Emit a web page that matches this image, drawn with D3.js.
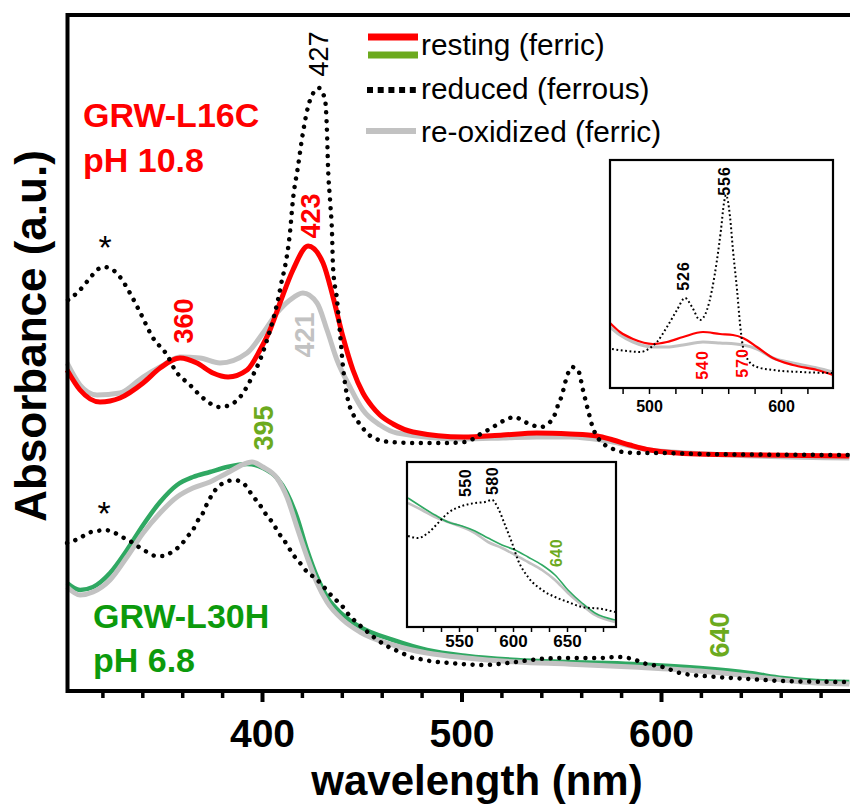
<!DOCTYPE html>
<html><head><meta charset="utf-8">
<script src="https://cdn.jsdelivr.net/npm/d3@7"></script>
<style>body{margin:0;background:#fff}</style>
</head><body><svg id="chart" width="850" height="809"></svg>
<script>
// ---------- main panel data (wavelength nm, absorbance a.u.) ----------
const wlL16CResting = [302.3,308.8,318.8,328.8,340.4,348.9,358.9,367.4,375.4,383.0,392.5,399.0,404.0,409.0,415.5,423.1,430.6,435.6,440.6,445.6,450.6,455.0,459.1,465.7,475.7,500.8,520.8,537.8,554.4,568.0,576.0,584.4,594.5,618.0,651.0,694.4];
const absL16CResting = [.321,.301,.289,.293,.308,.323,.333,.328,.318,.314,.321,.341,.361,.388,.421,.445,.428,.394,.354,.321,.298,.285,.276,.267,.259,.254,.256,.258,.257,.255,.251,.246,.241,.237,.236,.235];

const wlL16CReox = [302.3,308.8,317.3,328.8,340.4,348.9,358.9,368.9,378.9,392.5,400.5,407.5,414.0,420.5,427.6,432.6,437.6,444.1,450.6,459.1,467.7,500.8,520.8,537.8,554.4,575.9,594.5,634.3,694.4];
const absL16CReox = [.328,.306,.296,.298,.314,.324,.334,.333,.328,.338,.358,.378,.391,.398,.388,.361,.331,.304,.281,.266,.258,.252,.253,.254,.254,.249,.241,.236,.233];

const wlL16CReduced = [302.8,307.8,313.8,317.3,320.8,325.3,328.8,333.8,338.8,345.4,352.4,356.4,363.9,370.4,378.9,384.0,390.5,395.0,399.0,402.5,405.5,408.0,410.0,411.5,414.0,415.5,418.0,420.5,424.1,428.6,431.6,432.6,433.1,434.1,435.1,435.6,437.6,439.1,440.6,443.1,445.6,448.6,455.1,464.2,477.7,492.7,501.8,505.8,510.3,514.3,518.3,522.8,526.8,530.8,535.3,539.8,544.4,546.9,548.4,550.4,551.9,555.4,558.4,560.9,563.4,565.9,568.4,571.9,575.9,580.9,589.4,601.0,618.0,694.4];
const absL16CReduced = [.391,.399,.413,.421,.424,.421,.414,.398,.379,.353,.336,.321,.306,.293,.284,.286,.298,.314,.331,.351,.371,.391,.411,.424,.458,.491,.524,.558,.591,.603,.591,.558,.524,.491,.458,.424,.391,.358,.324,.291,.277,.268,.254,.249,.248,.248,.249,.252,.258,.262,.267,.272,.274,.270,.266,.264,.269,.277,.286,.296,.308,.324,.321,.301,.281,.263,.253,.246,.242,.239,.238,.238,.237,.236];

const wlL30HResting = [302.3,308.8,315.3,323.8,332.3,340.4,348.9,357.4,365.4,373.9,382.5,392.5,400.5,407.5,412.5,417.5,422.6,427.6,432.6,440.6,449.1,465.7,482.7,502.8,527.8,552.9,585.9,619.5,644.4,660.9,677.9,694.4];
const absL30HResting = [.108,.101,.104,.118,.141,.166,.189,.206,.214,.219,.224,.227,.223,.213,.198,.174,.141,.114,.094,.076,.064,.051,.041,.035,.031,.029,.027,.023,.018,.013,.010,.009];

const wlL30HReox = [302.3,308.8,315.3,323.8,332.3,340.4,348.9,357.4,365.4,373.9,382.5,392.5,395.0,400.5,407.5,412.5,417.5,422.6,427.6,432.6,440.6,449.1,465.7,482.7,502.8,527.8,552.9,585.9,619.5,644.4,660.9,677.9,694.4];
const absL30HReox = [.104,.096,.099,.111,.134,.158,.178,.194,.203,.209,.218,.228,.229,.224,.213,.194,.164,.134,.108,.089,.071,.059,.046,.038,.033,.029,.027,.024,.020,.015,.011,.008,.007];

const wlL30HReduced = [302.3,308.8,312.8,317.3,321.3,325.3,329.8,333.8,338.3,342.4,346.9,350.9,355.4,359.4,362.4,365.4,367.4,370.4,372.4,374.9,377.9,381.9,386.0,390.5,394.0,397.0,400.0,402.5,405.5,408.0,411.0,413.5,416.5,419.5,422.6,426.6,430.6,433.6,437.1,440.6,443.6,447.1,450.6,456.6,461.7,465.7,470.2,474.2,479.2,484.2,494.2,510.8,522.8,530.8,539.3,552.9,569.4,577.9,585.9,590.9,596.0,601.0,609.5,628.0,644.4,660.9,694.4];
const absL30HReduced = [.148,.153,.158,.160,.161,.159,.154,.150,.144,.139,.135,.135,.140,.146,.154,.161,.169,.178,.187,.196,.204,.209,.211,.208,.199,.191,.183,.175,.168,.159,.151,.143,.134,.127,.119,.113,.105,.098,.091,.084,.076,.069,.063,.053,.046,.042,.038,.034,.032,.030,.028,.026,.028,.030,.032,.033,.033,.034,.032,.028,.026,.024,.018,.014,.012,.010,.009];

// ---------- inset 1 (GRW-L16C, Q-band region) ----------
const wlIn1Reduced = [472,483.3,493.2,500.8,506,513.6,521.2,527.3,532.6,538.6,543.9,547.7,551.5,554.5,556.8,558.3,561.4,563.6,566.7,568.9,571.2,575,581.8,593.9,614.4,639.4];
const absIn1Reduced = [.039,.037,.036,.040,.046,.061,.078,.090,.081,.068,.078,.098,.128,.158,.185,.193,.171,.138,.098,.065,.041,.028,.021,.018,.016,.015];
const wlIn1Resting = [470.5,478,487.9,503,513.6,525.8,540.9,553.8,563.6,571.2,581.8,593.9,609,627.3,639.4];
const absIn1Resting = [.065,.056,.049,.044,.046,.051,.056,.054,.053,.050,.041,.030,.023,.018,.013];
const wlIn1Reox = [470.5,478,487.9,503,513.6,525.8,540.9,553.8,571.2,581.8,593.9,609,627.3,639.4];
const absIn1Reox = [.061,.053,.046,.041,.041,.043,.046,.045,.043,.039,.030,.025,.020,.016];

// ---------- inset 2 (GRW-L30H) ----------
const wlIn2 = [502.8,515.7,527.8,539.8,552.8,564.8,576.9,589.8,601.9,613.9,626.9,638.9,650.9,663.9,675.9,694.4];
const absIn2Resting = [.129,.120,.112,.105,.101,.096,.089,.082,.077,.070,.062,.052,.037,.024,.014,.007];
const absIn2Reox = [.124,.117,.110,.105,.100,.094,.085,.079,.072,.065,.057,.047,.034,.022,.012,.005];
const wlIn2Reduced = [502.8,512,521.3,530.6,539.8,552.8,564.8,574.1,580.6,586.1,592.6,599.1,604.6,613.9,626.9,638.9,650.9,663.9,682.4,694.4];
const absIn2Reduced = [.091,.089,.094,.104,.114,.121,.124,.125,.127,.119,.102,.084,.067,.050,.037,.030,.025,.020,.018,.015];

// ---------- ticks / labels ----------
const mainMajorTicks = [400, 500, 600];
const mainMinorTicks = [320,340,360,380,420,440,460,480,520,540,560,580,620,640,660,680];
const in1Ticks = [480,500,520,540,560,580,600,620];
const in1Labels = [500, 600];
const in2Ticks = d3.range(0, 11).map(i => 516.67 + i * 50 / 3);
const in2Labels = [550, 600, 650];
const legendLabels = ["resting (ferric)", "reduced (ferrous)", "re-oxidized (ferric)"];

// ---------- drawing ----------
const FONT = '"Liberation Sans", Arial, Helvetica, sans-serif';
const COL = {red:"#ff0000", gray:"#c2c2c2", green:"#2fa862", greenLabel:"#0c9a0c", yg:"#6caa1e", black:"#000"};
const svg = d3.select("#chart").style("font-family", FONT);
svg.append("rect").attr("width", 850).attr("height", 809).attr("fill", "#fff");

const x = d3.scaleLinear().domain([300, 700]).range([62.5, 860.5]);
const y = d3.scaleLinear().domain([0, 0.68]).range([691, 11]);

function series(g, xs, ys, wl, ab, st) {
  const pts = wl.map((w, i) => [w, ab[i]]);
  const line = d3.line().x(d => xs(d[0])).y(d => ys(d[1])).curve(d3.curveMonotoneX);
  g.append("path").attr("d", line(pts)).attr("fill", "none")
    .attr("stroke", st.color).attr("stroke-width", st.width)
    .attr("stroke-dasharray", st.dash || null)
    .attr("stroke-linecap", st.cap || "butt").attr("stroke-linejoin", "round");
}
function vText(g, cx, cy, txt, size, color, weight, ls) {
  g.append("text").attr("transform", `translate(${cx},${cy}) rotate(-90)`)
    .attr("text-anchor", "middle").attr("dy", "0.36em")
    .attr("font-size", size).attr("font-weight", weight || "bold")
    .attr("letter-spacing", ls || 0).attr("fill", color).text(txt);
}

// main curves
const mg = svg.append("g");
series(mg, x, y, wlL16CReox, absL16CReox, {color: COL.gray, width: 5});
series(mg, x, y, wlL16CResting, absL16CResting, {color: COL.red, width: 5});
series(mg, x, y, wlL16CReduced, absL16CReduced, {color: COL.black, width: 4.5, dash: "0.01 8.7", cap: "round"});
series(mg, x, y, wlL30HResting, absL30HResting, {color: COL.green, width: 4.5});
series(mg, x, y, wlL30HReox, absL30HReox, {color: COL.gray, width: 5});
series(mg, x, y, wlL30HReduced, absL30HReduced, {color: COL.black, width: 4.5, dash: "0.01 8.7", cap: "round"});

// frame
svg.append("rect").attr("x", 67.5).attr("y", 15).attr("width", 800).attr("height", 676)
  .attr("fill", "none").attr("stroke", "#000").attr("stroke-width", 4);

// main x axis
const axMinor = svg.append("g").attr("transform", "translate(0,691)")
  .call(d3.axisBottom(x).tickValues(mainMinorTicks).tickSize(7).tickSizeOuter(0).tickFormat(""));
axMinor.select(".domain").remove();
axMinor.selectAll(".tick line").attr("stroke-width", 3.5);
const axMajor = svg.append("g").attr("transform", "translate(0,691)")
  .call(d3.axisBottom(x).tickValues(mainMajorTicks).tickSize(11).tickSizeOuter(0).tickFormat(d3.format("d")));
axMajor.select(".domain").remove();
axMajor.selectAll(".tick line").attr("stroke-width", 4);
axMajor.selectAll(".tick text").attr("y", 56).attr("dy", null)
  .attr("font-size", 39).attr("font-weight", "bold").attr("font-family", FONT).attr("fill", "#000");

// axis titles
svg.append("text").attr("x", 477).attr("y", 795).attr("text-anchor", "middle")
  .attr("font-size", 42).attr("font-weight", "bold").text("wavelength (nm)");
svg.append("text").attr("transform", "translate(46,336) rotate(-90)").attr("text-anchor", "middle")
  .attr("font-size", 44).attr("font-weight", "bold").text("Absorbance (a.u.)");

// legend
const lg = svg.append("g");
lg.append("line").attr("x1", 368).attr("x2", 418).attr("y1", 37).attr("y2", 37).attr("stroke", COL.red).attr("stroke-width", 7);
lg.append("line").attr("x1", 368).attr("x2", 418).attr("y1", 55).attr("y2", 55).attr("stroke", COL.yg).attr("stroke-width", 7);
lg.append("line").attr("x1", 367).attr("x2", 420).attr("y1", 90).attr("y2", 90).attr("stroke", "#000").attr("stroke-width", 6).attr("stroke-dasharray", "6 4.7");
lg.append("line").attr("x1", 366).attr("x2", 416).attr("y1", 131).attr("y2", 131).attr("stroke", COL.gray).attr("stroke-width", 6);
[55, 99, 142].forEach((by, i) => {
  lg.append("text").attr("x", 421).attr("y", by).attr("font-size", 29.8).attr("fill", "#000").text(legendLabels[i]);
});

// sample labels
svg.append("text").attr("x", 83).attr("y", 127).attr("font-size", 34).attr("font-weight", "bold").attr("fill", COL.red).text("GRW-L16C");
svg.append("text").attr("x", 83).attr("y", 172).attr("font-size", 34).attr("font-weight", "bold").attr("fill", COL.red).text("pH 10.8");
svg.append("text").attr("x", 93).attr("y", 628).attr("font-size", 34).attr("font-weight", "bold").attr("fill", COL.greenLabel).text("GRW-L30H");
svg.append("text").attr("x", 93).attr("y", 672).attr("font-size", 34).attr("font-weight", "bold").attr("fill", COL.greenLabel).text("pH 6.8");

// peak annotations
vText(svg, 318, 54, "427", 27, "#000", "normal");
vText(svg, 310, 216, "423", 27, COL.red);
vText(svg, 183, 321, "360", 27, COL.red);
vText(svg, 304, 335, "421", 27, COL.gray);
vText(svg, 263, 428, "395", 27, COL.yg);
vText(svg, 719, 635, "640", 27, COL.yg);
svg.append("text").attr("x", 105).attr("y", 259).attr("text-anchor", "middle").attr("font-size", 34).text("*");
svg.append("text").attr("x", 104).attr("y", 525).attr("text-anchor", "middle").attr("font-size", 34).text("*");

// ---------- inset 1 ----------
const x1 = d3.scaleLinear().domain([500, 600]).range([649, 781]);
const y1 = d3.scaleLinear().domain([0, 0.228]).range([388, 160]);
const g1 = svg.append("g");
g1.append("rect").attr("x", 610).attr("y", 160).attr("width", 223).attr("height", 228).attr("fill", "#fff");
series(g1, x1, y1, wlIn1Reox, absIn1Reox, {color: COL.gray, width: 3});
series(g1, x1, y1, wlIn1Resting, absIn1Resting, {color: COL.red, width: 2.2});
series(g1, x1, y1, wlIn1Reduced, absIn1Reduced, {color: "#000", width: 2, dash: "1.8 2.6"});
g1.append("rect").attr("x", 610).attr("y", 160).attr("width", 223).attr("height", 228)
  .attr("fill", "none").attr("stroke", "#000").attr("stroke-width", 2.2);
const a1 = g1.append("g").attr("transform", "translate(0,389)")
  .call(d3.axisBottom(x1).tickValues(in1Ticks).tickSize(5).tickSizeOuter(0)
    .tickFormat(d => in1Labels.includes(d) ? d : ""));
a1.select(".domain").remove();
a1.selectAll(".tick line").attr("stroke-width", 1.5);
a1.selectAll(".tick text").attr("y", 23).attr("dy", null).attr("font-size", 16)
  .attr("font-weight", "bold").attr("font-family", FONT).attr("fill", "#000");
vText(g1, 683, 276, "526", 16, "#000", "bold", 1);
vText(g1, 724, 181, "556", 16, "#000", "bold", 1);
vText(g1, 702, 365, "540", 16, COL.red, "bold", 1);
vText(g1, 742, 363, "570", 16, COL.red, "bold", 1);

// ---------- inset 2 ----------
const x2 = d3.scaleLinear().domain([550, 600]).range([459, 513]);
const y2 = d3.scaleLinear().domain([0, 0.165]).range([627, 462]);
const g2 = svg.append("g");
g2.append("rect").attr("x", 407).attr("y", 462).attr("width", 209).attr("height", 165).attr("fill", "#fff");
series(g2, x2, y2, wlIn2, absIn2Reox, {color: COL.gray, width: 2.6});
series(g2, x2, y2, wlIn2, absIn2Resting, {color: COL.green, width: 1.6});
series(g2, x2, y2, wlIn2Reduced, absIn2Reduced, {color: "#000", width: 2, dash: "1.8 2.6"});
g2.append("rect").attr("x", 407).attr("y", 462).attr("width", 209).attr("height", 165)
  .attr("fill", "none").attr("stroke", "#000").attr("stroke-width", 2.2);
const a2 = g2.append("g").attr("transform", "translate(0,628)")
  .call(d3.axisBottom(x2).tickValues(in2Ticks).tickSize(4).tickSizeOuter(0)
    .tickFormat(d => { const r = Math.round(d); return in2Labels.includes(r) && Math.abs(r - d) < 0.1 ? r : ""; }));
a2.select(".domain").remove();
a2.selectAll(".tick line").attr("stroke-width", 1.5);
a2.selectAll(".tick text").attr("y", 19).attr("dy", null).attr("font-size", 17)
  .attr("font-weight", "bold").attr("font-family", FONT).attr("fill", "#000");
vText(g2, 465, 483, "550", 16, "#000", "bold", 0.5);
vText(g2, 492, 481, "580", 16, "#000", "bold", 0.5);
vText(g2, 556, 553, "640", 16, COL.yg, "bold", 0.5);
</script></body></html>
